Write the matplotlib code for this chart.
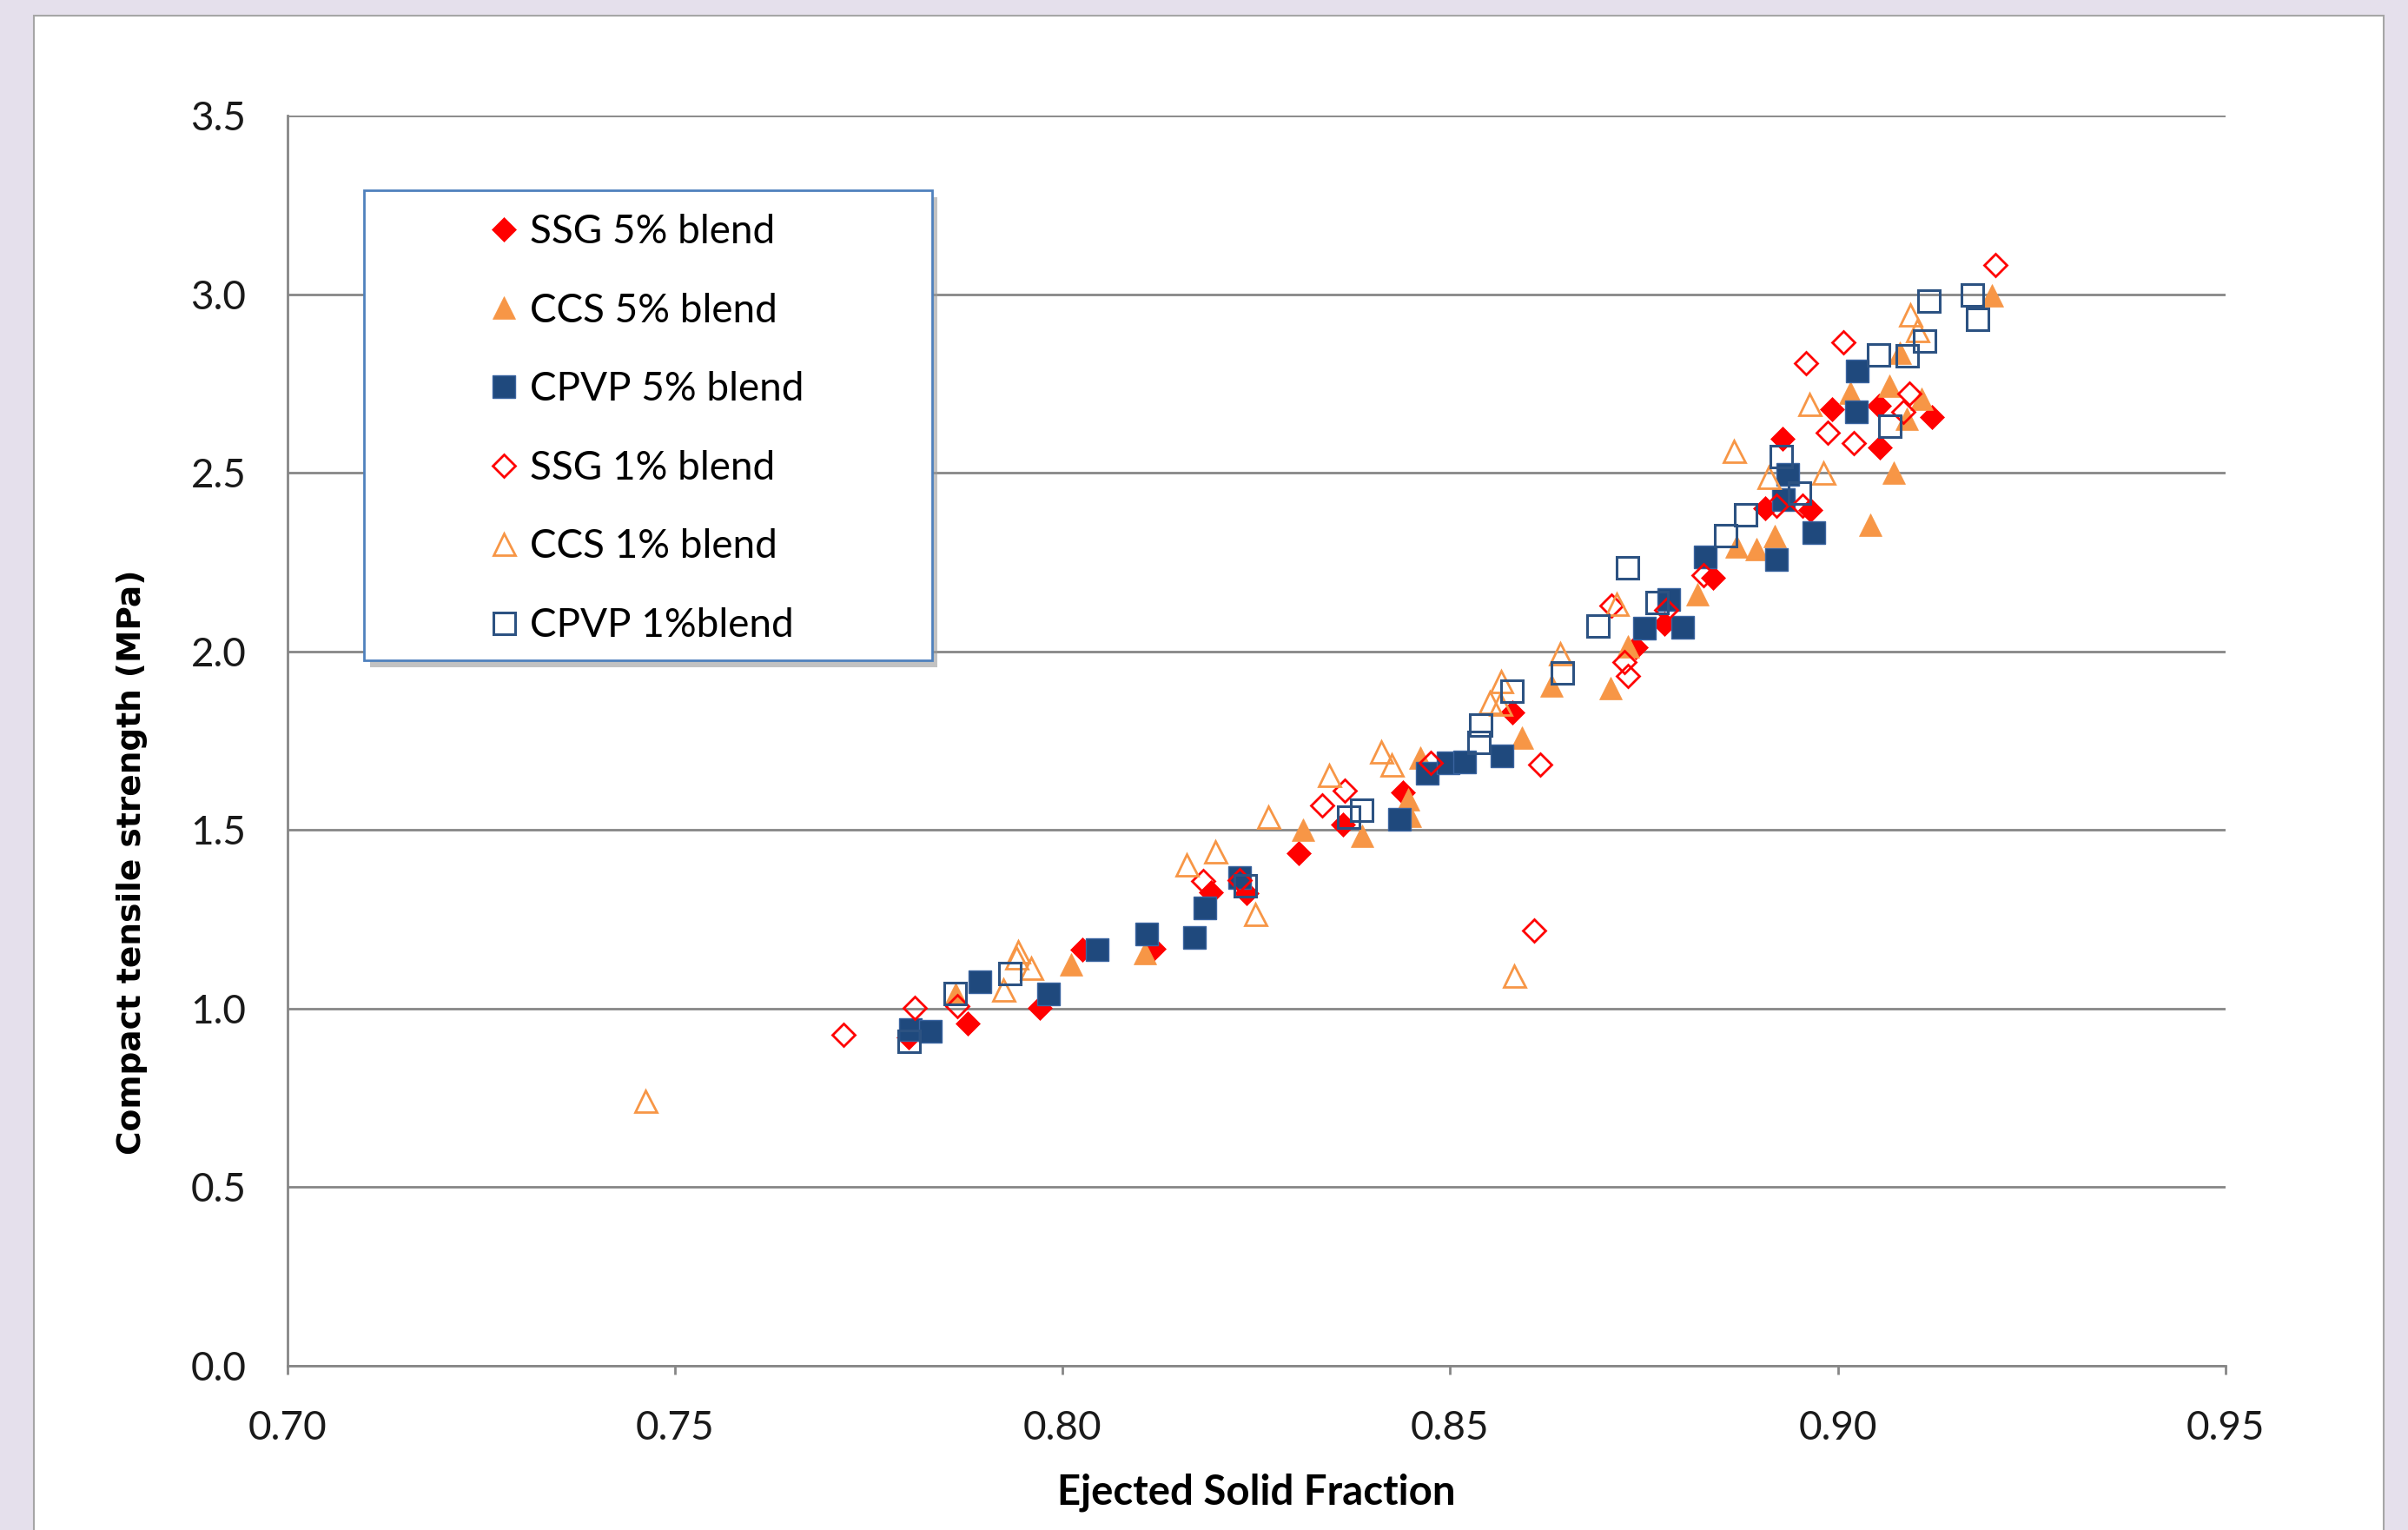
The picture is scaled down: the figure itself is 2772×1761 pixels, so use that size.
import matplotlib
matplotlib.use("Agg")
import matplotlib.pyplot as plt
from matplotlib.patches import Rectangle

# data
ssg5_x = [0.7802, 0.7878, 0.7971, 0.8026, 0.8118, 0.8191, 0.8237, 0.8305, 0.8362, 0.8439,
          0.8580, 0.8739, 0.8776, 0.8839, 0.8906, 0.8929, 0.8964, 0.8993, 0.9053, 0.9054, 0.9121]
ssg5_y = [0.920, 0.958, 1.001, 1.164, 1.168, 1.326, 1.322, 1.434, 1.516, 1.605,
          1.829, 2.011, 2.076, 2.207, 2.400, 2.594, 2.396, 2.678, 2.688, 2.570, 2.657]

ccs5_x = [0.7862, 0.8011, 0.8106, 0.8310, 0.8386, 0.8446, 0.8448, 0.8461, 0.8593, 0.8631,
          0.8707, 0.8729, 0.8819, 0.8869, 0.8895, 0.8919, 0.9016, 0.9042, 0.9067, 0.9072,
          0.9080, 0.9089, 0.9108, 0.9199]
ccs5_y = [1.040, 1.123, 1.155, 1.500, 1.484, 1.585, 1.540, 1.702, 1.759, 1.905,
          1.897, 2.015, 2.161, 2.294, 2.286, 2.323, 2.724, 2.355, 2.744, 2.501,
          2.835, 2.651, 2.708, 2.996]

cpvp5_x = [0.7804, 0.7829, 0.7893, 0.7982, 0.8045, 0.8109, 0.8170, 0.8184, 0.8228, 0.8434,
           0.8470, 0.8497, 0.8519, 0.8567, 0.8750, 0.8782, 0.8800, 0.8829, 0.8921, 0.8930,
           0.8935, 0.8969, 0.9024, 0.9025]
cpvp5_y = [0.942, 0.937, 1.076, 1.040, 1.165, 1.208, 1.200, 1.281, 1.366, 1.531,
           1.660, 1.687, 1.690, 1.708, 2.065, 2.144, 2.067, 2.264, 2.258, 2.424,
           2.495, 2.333, 2.671, 2.785]

ssg1_x = [0.7717, 0.7809, 0.7864, 0.8181, 0.8228, 0.8335, 0.8364, 0.8475, 0.8608, 0.8616,
          0.8708, 0.8725, 0.8729, 0.8779, 0.8827, 0.8921, 0.8955, 0.8959, 0.8987, 0.9007,
          0.9021, 0.9084, 0.9092, 0.9203]
ssg1_y = [0.926, 1.003, 1.008, 1.358, 1.360, 1.569, 1.609, 1.687, 1.219, 1.684,
          2.127, 1.970, 1.932, 2.116, 2.213, 2.408, 2.408, 2.807, 2.611, 2.864,
          2.582, 2.670, 2.722, 3.081]

ccs1_x = [0.7462, 0.7924, 0.7940, 0.7943, 0.7959, 0.8160, 0.8197, 0.8249, 0.8265, 0.8344,
          0.8411, 0.8425, 0.8551, 0.8564, 0.8566, 0.8582, 0.8642, 0.8715, 0.8866, 0.8911,
          0.8963, 0.8981, 0.9093, 0.9102]
ccs1_y = [0.742, 1.052, 1.143, 1.160, 1.115, 1.403, 1.441, 1.265, 1.536, 1.654,
          1.719, 1.682, 1.859, 1.853, 1.917, 1.091, 1.994, 2.132, 2.562, 2.489,
          2.692, 2.501, 2.943, 2.898]

cpvp1_x = [0.7802, 0.7861, 0.7931, 0.8235, 0.8368, 0.8385, 0.8536, 0.8539, 0.8579, 0.8644,
           0.8690, 0.8728, 0.8766, 0.8855, 0.8881, 0.8926, 0.8950, 0.9052, 0.9066, 0.9089,
           0.9111, 0.9117, 0.9173, 0.9180]
cpvp1_y = [0.910, 1.044, 1.099, 1.346, 1.538, 1.557, 1.747, 1.794, 1.889, 1.942,
           2.073, 2.234, 2.138, 2.325, 2.383, 2.546, 2.444, 2.832, 2.632, 2.829,
           2.870, 2.983, 3.000, 2.931]

labels = ["SSG 5% blend", "CCS 5% blend", "CPVP 5% blend",
          "SSG 1% blend", "CCS 1% blend", "CPVP 1%blend"]

plt.rcParams['font.family'] = ['Lato', 'DejaVu Sans']

fig = plt.figure(figsize=(27.72, 17.61), dpi=100)
fig.patch.set_facecolor('#e5e0ec')
panel = Rectangle((0.0141, -0.01), 0.9759, 1.0, transform=fig.transFigure,
                  facecolor='white', edgecolor='#a6a6a6', linewidth=1.5, zorder=-5)
fig.add_artist(panel)

ax = fig.add_axes([0.1193, 0.1073, 0.8049, 0.8172])
ax.set_facecolor('white')

red = '#ff0000'
orange = '#f79646'
navy = '#1f497d'

ax.plot(ssg5_x, ssg5_y, 'D', ms=14, color=red, mec=red, mew=0.5, label=labels[0], zorder=3)
ax.plot(ccs5_x, ccs5_y, '^', ms=19, color=orange, mec=orange, mew=0.5, label=labels[1], zorder=3)
ax.plot(cpvp5_x, cpvp5_y, 's', ms=19, color=navy, mec='#3a64a0', mew=1.0, label=labels[2], zorder=3)
ax.plot(ssg1_x, ssg1_y, 'D', ms=13, mfc='none', mec=red, mew=2.0, label=labels[3], zorder=3)
ax.plot(ccs1_x, ccs1_y, '^', ms=18, mfc='none', mec=orange, mew=2.0, label=labels[4], zorder=3)
ax.plot(cpvp1_x, cpvp1_y, 's', ms=18, mfc='none', mec='#2c5282', mew=2.2, label=labels[5], zorder=3)

ax.set_xlim(0.70, 0.95)
ax.set_ylim(0.0, 3.5)
ax.set_xticks([0.70, 0.75, 0.80, 0.85, 0.90, 0.95])
ax.set_yticks([0.0, 0.5, 1.0, 1.5, 2.0, 2.5, 3.0, 3.5])
ax.set_xticklabels(["%.2f" % v for v in ax.get_xticks()])
ax.set_yticklabels(["%.1f" % v for v in ax.get_yticks()])
ax.grid(axis='y', color='#868686', linewidth=2.0, zorder=1)
ax.set_axisbelow(True)
for s in ['top', 'right']:
    ax.spines[s].set_visible(False)
for s in ['left', 'bottom']:
    ax.spines[s].set_color('#868686')
    ax.spines[s].set_linewidth(2.0)
ax.tick_params(axis='x', length=7, width=2, color='#868686', pad=30, labelsize=33, labelcolor='#1a1a1a')
ax.tick_params(axis='y', length=0, pad=34, labelsize=33, labelcolor='#1a1a1a')

ax.set_xlabel("Ejected Solid Fraction", fontsize=34, fontweight='bold', labelpad=22)
ax.set_ylabel("Compact tensile strength (MPa)", fontsize=27, fontweight='bold',
              family='DejaVu Sans')
ax.yaxis.set_label_coords(-0.072, 0.403)

# legend box with shadow
ax.add_patch(Rectangle((0.0425, 0.559), 0.2931, 0.3759, transform=ax.transAxes,
                       facecolor='#9a9a9a', edgecolor='none', alpha=0.6, zorder=4, clip_on=False))
ax.add_patch(Rectangle((0.0396, 0.5643), 0.2931, 0.3759, transform=ax.transAxes,
                       facecolor='white', edgecolor='#4f81bd', linewidth=2.0, zorder=5, clip_on=False))
leg = ax.legend(loc='upper left', bbox_to_anchor=(0.1055, 0.9215), frameon=False, fontsize=33,
                handlelength=0.6, handletextpad=0.35, labelspacing=1.06, borderaxespad=0,
                borderpad=0)
leg.set_zorder(6)

fig.savefig('out.png', dpi=100, facecolor=fig.get_facecolor())
